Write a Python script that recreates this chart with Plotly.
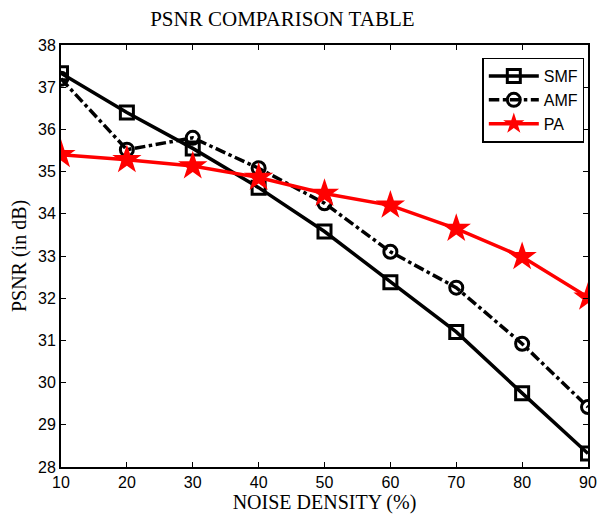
import plotly.graph_objects as go

noise = [10, 20, 30, 40, 50, 60, 70, 80, 90]
smf = [37.33, 36.4, 35.55, 34.62, 33.58, 32.38, 31.2, 29.75, 28.32]
amf = [37.2, 35.52, 35.8, 35.08, 34.25, 33.1, 32.25, 30.92, 29.42]
pa = [35.4, 35.28, 35.13, 34.86, 34.48, 34.2, 33.65, 32.98, 32.02]

fig = go.Figure()
fig.add_trace(go.Scatter(x=noise, y=smf, name="SMF", mode="lines+markers",
                         line=dict(color="black", width=3.5),
                         marker=dict(symbol="square-open", size=13, color="black", line=dict(width=3))))
fig.add_trace(go.Scatter(x=noise, y=amf, name="AMF", mode="lines+markers",
                         line=dict(color="black", width=3.5, dash="dashdot"),
                         marker=dict(symbol="circle-open", size=13, color="black", line=dict(width=3))))
fig.add_trace(go.Scatter(x=noise, y=pa, name="PA", mode="lines+markers",
                         line=dict(color="red", width=3.5),
                         marker=dict(symbol="star", size=22, color="red", line=dict(width=0))))

axis_common = dict(showline=True, linecolor="black", linewidth=2, mirror="ticks",
                   ticks="inside", ticklen=5, tickwidth=1, tickcolor="black",
                   showgrid=False, zeroline=False,
                   tickfont=dict(family="Liberation Sans, Arial", size=16, color="black"))

serif = "Liberation Serif, Times New Roman"

fig.update_layout(
    width=606, height=519,
    margin=dict(l=61, r=9, t=45, b=52),
    paper_bgcolor="white", plot_bgcolor="white",
    title=dict(text="PSNR COMPARISON TABLE", x=0.466, xanchor="center", y=0.965, yanchor="middle",
               font=dict(family=serif, size=21, color="black")),
    xaxis=dict(range=[10, 90], tickvals=noise, **axis_common,
               title=dict(text="NOISE DENSITY (%)", standoff=4,
                          font=dict(family=serif, size=20, color="black"))),
    yaxis=dict(range=[28, 38], dtick=1, **axis_common,
               title=dict(text="PSNR (in dB)", standoff=6,
                          font=dict(family=serif, size=20, color="black"))),
    legend=dict(x=0.993, y=0.97, xanchor="right", yanchor="top",
                bordercolor="black", borderwidth=1.5, bgcolor="white",
                font=dict(family="Liberation Sans, Arial", size=16, color="black"),
                itemwidth=50, tracegroupgap=0),
    showlegend=True,
)

fig.write_html("out.html", config={"displayModeBar": False},
               post_script="document.body.style.margin='0';")
